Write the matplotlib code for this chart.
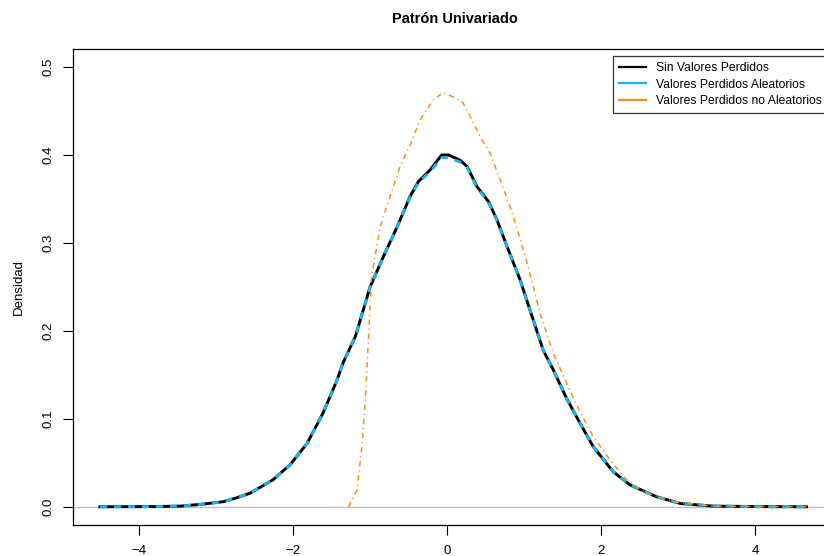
import matplotlib
matplotlib.use("Agg")
import matplotlib.pyplot as plt
from matplotlib.lines import Line2D

plt.rcParams['font.family'] = ['Liberation Sans', 'DejaVu Sans']

x_sin = [-4.51, -3.8, -3.47, -3.2, -2.91, -2.75, -2.56, -2.26, -2.04, -1.82, -1.61, -1.43,
         -1.35, -1.19, -1.0, -0.83, -0.65, -0.48, -0.37, -0.22, -0.07, 0.02, 0.17, 0.26,
         0.39, 0.54, 0.65, 0.78, 0.95, 1.12, 1.25, 1.38, 1.55, 1.73, 1.90, 2.16, 2.38,
         2.72, 3.03, 3.46, 4.0, 4.67]
y_sin = [0.0003, 0.0005, 0.001, 0.003, 0.006, 0.010, 0.0156, 0.031, 0.048, 0.072, 0.107, 0.144,
         0.164, 0.194, 0.250, 0.284, 0.318, 0.353, 0.370, 0.383, 0.400, 0.400, 0.394, 0.387,
         0.364, 0.347, 0.326, 0.296, 0.258, 0.2125, 0.178, 0.156, 0.124, 0.095, 0.0685, 0.040, 0.025,
         0.0117, 0.004, 0.001, 0.0005, 0.0003]

x_ale = x_sin
y_ale = [0.0003, 0.0005, 0.001, 0.003, 0.006, 0.010, 0.0156, 0.031, 0.048, 0.072, 0.107, 0.144,
         0.164, 0.194, 0.250, 0.284, 0.318, 0.352, 0.369, 0.381, 0.397, 0.397, 0.392, 0.386,
         0.363, 0.346, 0.325, 0.296, 0.258, 0.2125, 0.178, 0.156, 0.124, 0.095, 0.0685, 0.040, 0.025,
         0.0117, 0.004, 0.001, 0.0005, 0.0003]

x_noale = [-1.28, -1.17, -1.13, -1.10, -1.06, -1.02, -0.98, -0.87, -0.74, -0.61, -0.48, -0.35,
           -0.18, -0.05, 0.13, 0.21, 0.30, 0.43, 0.56, 0.69, 0.82, 0.95, 1.08, 1.21, 1.38,
           1.64, 1.73, 1.90, 2.12, 2.33, 2.59, 2.94, 3.46, 4.0, 4.67]
y_noale = [0.0, 0.019, 0.05, 0.074, 0.124, 0.194, 0.262, 0.318, 0.353, 0.387, 0.411, 0.44,
           0.4625, 0.471, 0.464, 0.459, 0.444, 0.421, 0.402, 0.372, 0.341, 0.305, 0.264, 0.22, 0.175,
           0.124, 0.108, 0.080, 0.053, 0.031, 0.0156, 0.006, 0.001, 0.0005, 0.0003]

x_ticks = [-4, -2, 0, 2, 4]
y_ticks = [0.0, 0.1, 0.2, 0.3, 0.4, 0.5]
labels = ["Sin Valores Perdidos", "Valores Perdidos Aleatorios", "Valores Perdidos no Aleatorios"]
colors = ["black", "#1AB2EA", "#FF8C1A"]

fig = plt.figure(figsize=(8.24, 5.56), dpi=100)
ax = fig.add_axes([73/824, (556-524.6)/556, (838-73)/824, (524.6-49.4)/556])

ax.axhline(0, color="#BEBEBE", lw=1.0, zorder=1)
ax.plot(x_sin, y_sin, color=colors[0], lw=2.1, zorder=2)
ax.plot(x_ale, y_ale, color=colors[1], lw=2.1, linestyle=(0, (2.4, 2.4)), zorder=3)
ax.plot(x_noale, y_noale, color=colors[2], lw=1.1, linestyle=(0, (3.5, 2.5, 0.8, 2.5)), zorder=4)

ax.set_xlim(-4.86, 5.08)
ax.set_ylim(-0.02, 0.52)
ax.set_xticks(x_ticks)
ax.set_xticklabels(["\u22124", "\u22122", "0", "2", "4"])
ax.set_yticks(y_ticks)
ax.set_yticklabels(["0.0", "0.1", "0.2", "0.3", "0.4", "0.5"], rotation=90, va="center")
ax.tick_params(direction="out", length=7, width=0.8, labelsize=9.5)
ax.tick_params(axis="x", pad=7.5)
ax.tick_params(axis="y", pad=6)
for s in ax.spines.values():
    s.set_linewidth(0.9)
ax.set_ylabel("Densidad", fontsize=9.5, labelpad=13)
fig.text(455/824, 1-19/556, "Patrón Univariado", ha="center", va="center",
         fontsize=10.5, fontweight="bold")

handles = [Line2D([0], [0], color=c, lw=1.6) for c in colors]
leg = fig.legend(handles, labels, loc="upper left", bbox_to_anchor=(613/824, 1-56/556),
                 fontsize=8.7, frameon=True, fancybox=False, handlelength=2.2,
                 handletextpad=0.9, borderpad=0.5, labelspacing=0.38, borderaxespad=0)
leg.get_frame().set_edgecolor("black")
leg.get_frame().set_linewidth(0.9)

fig.savefig("out.png", dpi=100)
